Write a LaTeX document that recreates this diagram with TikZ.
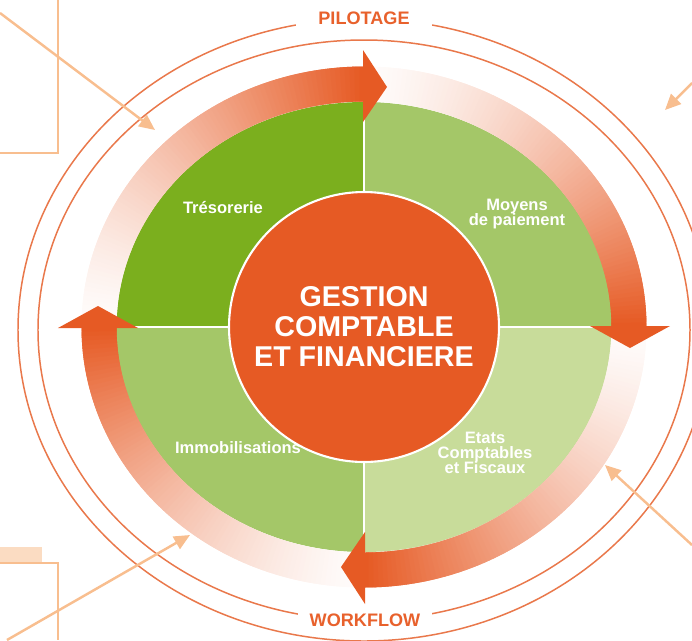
\documentclass[tikz,border=0pt]{standalone}
\usepackage{fontspec}
\setmainfont{Liberation Sans}
\usepackage{tikz}
\usetikzlibrary{arrows.meta,positioning,calc}
\usepackage{xcolor}
\definecolor{flowor}{HTML}{E65A24}
\definecolor{tagor}{HTML}{E8612C}
\definecolor{ringor}{HTML}{E9784B}
\definecolor{leafdark}{HTML}{7BAF1E}
\definecolor{leafmid}{HTML}{A4C768}
\definecolor{leaflight}{HTML}{C8DC9A}
\definecolor{peach}{HTML}{F8BE8F}
\definecolor{peachfill}{HTML}{FBDCC2}
\newcommand{\tightlines}{\setlength{\lineskiplimit}{-5pt}}

\begin{document}
\begin{tikzpicture}[x=0.02cm, y=0.02cm,
    lbl/.style={text=white, align=center, inner sep=0pt,
      font={\fontsize{9.4}{8.5}\selectfont\bfseries\tightlines}},
    tag/.style={text=tagor, fill=white, inner ysep=1pt,
      font=\fontsize{10.3}{12}\selectfont\bfseries},
    core/.style={circle, fill=flowor, draw=white, line width=1.2pt,
      minimum size=5.4cm, text=white, align=center,
      font=\fontsize{16.3}{17}\selectfont\bfseries},
    ring/.style={ringor, line width=0.85pt},
    pointer/.style={peach, line width=1.4pt, -{Triangle[length=9pt,width=8pt]}},
    frame/.style={peach, line width=1.1pt}]
  \useasboundingbox (-364,-313) rectangle (328,327);

  % quarters of the pie
  \foreach \s/\c in {90/leafdark, 0/leafmid, -90/leaflight, -180/leafmid}
    \fill[\c] (0,0) -- (\s+90:248 and 225)
      arc[start angle=\s+90, end angle=\s, x radius=248, y radius=225] -- cycle;
  \draw[white, line width=1.2pt] (180:248 and 225) -- (0:248 and 225);
  \draw[white, line width=1.2pt] (90:248 and 225) -- (-90:248 and 225);

  % cycle bands, pale at the tail
  \foreach \h in {90,0,-90,-180}{
    \foreach \i in {0,...,89}{
      \pgfmathsetmacro\a{\h+90-\i}
      \pgfmathsetmacro\p{2+98*(\i/89)^1.4}
      \draw[flowor!\p!white, line width=0.7cm] (\a:265 and 243)
        arc[start angle=\a, end angle=\a-2, x radius=265, y radius=243];
    }
  }
  \fill[flowor] (-1,205) -- (-1,277) -- (23,240) -- cycle;
  \fill[flowor] (226,1) -- (306,1) -- (266,-21) -- cycle;
  \fill[flowor] (1,-205) -- (1,-277) -- (-23,-240) -- cycle;
  \fill[flowor] (-226,-1) -- (-306,-1) -- (-266,21) -- cycle;

  \node[core] (core) at (0,0) {GESTION\\COMPTABLE\\ET FINANCIERE};

  \node[lbl] (treso) at (-141,119) {Trésorerie};
  \node[lbl] (moyens) at (153,113) {Moyens\\de paiement};
  \node[lbl] (immo) at (-126,-121) {Immobilisations};
  \node[lbl] (etats) at (121,-126) {Etats\\Comptables\\et Fiscaux};

  % outer rings
  \draw[ring] (0,-3) ellipse[x radius=326, y radius=290];
  \draw[ring] (0,-3) ellipse[x radius=346, y radius=311];
  \node[tag, inner xsep=12.5pt] (pilot) at (0,309) {PILOTAGE};
  \node[tag, inner xsep=6.8pt] (wflow) at (1,-293) {WORKFLOW};

  % side frames and pointers
  \draw[frame] (-364,174) -- (-306,174) -- (-306,327);
  \fill[peachfill] (-364,-236) rectangle (-322,-220);
  \draw[frame] (-364,-236) -- (-306,-236) -- (-306,-313);

  \coordinate (tlFrom) at (-364,314);
  \coordinate (tlTo) at (-209,197);
  \coordinate (trFrom) at (328,244);
  \coordinate (trTo) at (301,217);
  \coordinate (brFrom) at (328,-218);
  \coordinate (brTo) at (241,-138);
  \coordinate (blFrom) at (-357,-313);
  \coordinate (blTo) at (-174,-208);
  \draw[pointer] (tlFrom) -- (tlTo);
  \draw[pointer] (trFrom) -- (trTo);
  \draw[pointer] (brFrom) -- (brTo);
  \draw[pointer] (blFrom) -- (blTo);
\end{tikzpicture}
\end{document}
